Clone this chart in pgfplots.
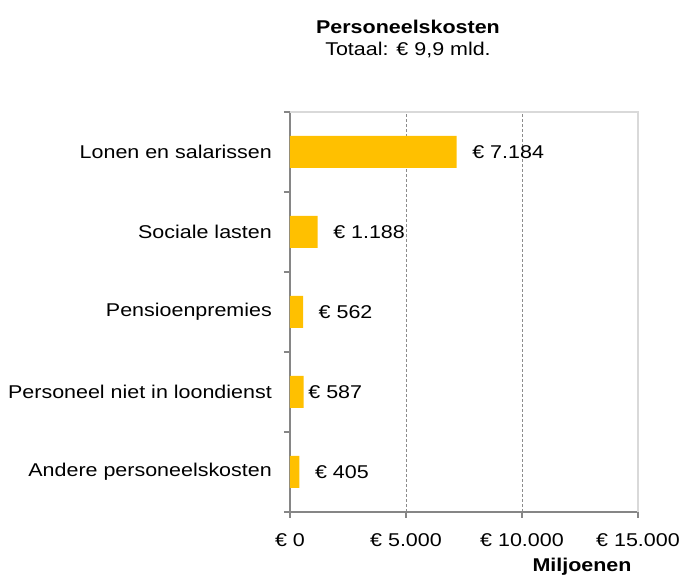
\documentclass[border=0pt]{standalone}
\usepackage{fontspec}
\setmainfont{Liberation Sans}[FakeStretch=1.16]
\usepackage{pgfplots}
\usepackage{pgfplotstable}
\pgfplotsset{compat=1.18}
\definecolor{barGold}{HTML}{FFC000}
\definecolor{axGray}{HTML}{868686}
\definecolor{frameGray}{HTML}{D9D9D9}

\pgfplotstableread[col sep=comma]{
y,val,lab,dx
4,7184,€ 7.184,15.5
3,1188,€ 1.188,15.5
2,562,€ 562,15.5
1,587,€ 587,4.6
0,405,€ 405,15.5
}\kosten

\begin{document}
\fontsize{18.5}{22}\selectfont
\begin{tikzpicture}
\begin{axis}[
    at={(0pt,0pt)}, anchor=south west,
    scale only axis, width=348pt, height=400pt,
    xmin=0, xmax=15000, ymin=-0.5, ymax=4.5,
    scaled x ticks=false,
    axis x line=bottom, axis y line=left,
    axis line style={-, draw=axGray, line width=1.3pt},
    xtick={0,5000,10000,15000},
    xticklabels={€ 0, € 5.000, € 10.000, € 15.000},
    xticklabel style={inner sep=0pt, yshift=-15pt},
    x tick style={draw=axGray, line width=1.1pt},
    major tick length=6pt,
    tick align=outside,
    ytick={0,1,2,3,4},
    yticklabels={Andere personeelskosten, Personeel niet in loondienst, Pensioenpremies, Sociale lasten, Lonen en salarissen},
    yticklabel style={inner sep=0pt, xshift=-12pt},
    y tick style={draw=none},
    minor ytick={-0.5,0.5,1.5,2.5,3.5,4.5},
    minor y tick style={draw=axGray, line width=1.1pt},
    minor tick length=6pt,
    xmajorgrids, grid style={densely dashed, draw=black!45, line width=0.5pt},
    clip=false,
]
\addplot[xbar, bar width=0.4, fill=barGold, draw=none,
    nodes near coords, point meta=explicit symbolic,
    visualization depends on={\thisrow{dx} \as \dx},
    every node near coord/.append style={anchor=west, inner sep=0pt, xshift=\dx pt, text=black}]
    table[x=val, y=y, meta=lab] {\kosten};
\draw[frameGray, line width=1.3pt] (rel axis cs:0,1) -- (rel axis cs:1,1) -- (rel axis cs:1,0);
\end{axis}
\node[font=\bfseries] at (118pt,485pt) {Personeelskosten};
\node at (118pt,462pt) {Totaal: € 9,9 mld.};
\node[font=\bfseries] at (292pt,-55pt) {Miljoenen};
\path[use as bounding box] (-290pt,-69pt) rectangle (393pt,512pt);
\end{tikzpicture}
\end{document}
